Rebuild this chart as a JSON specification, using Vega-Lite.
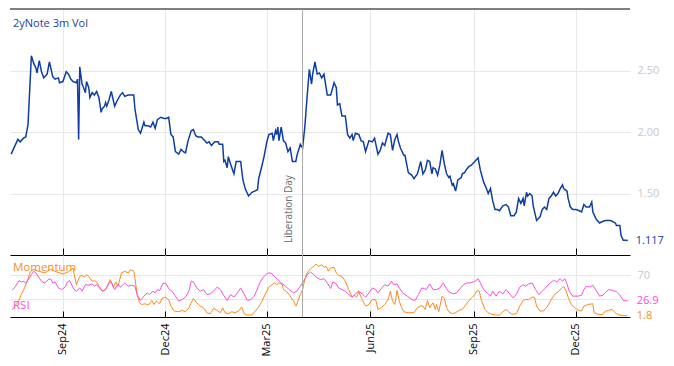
{
  "$schema": "https://vega.github.io/schema/vega-lite/v6.json",
  "padding": {"left": 8, "top": 8, "right": 0, "bottom": 0},
  "bounds": "flush",
  "spacing": 0,
  "config": {
    "view": {"stroke": null},
    "font": "Open Sans",
    "axis": {"gridColor": "#e8e8e8", "domainColor": "black", "tickColor": "black", "title": null}
  },
  "datasets": {
    "vol": [
      {"d":"2024-07-17","v":1.82},{"d":"2024-07-23","v":1.94},{"d":"2024-07-25","v":1.92},{"d":"2024-07-28","v":1.95},{"d":"2024-07-30","v":1.96},{"d":"2024-08-01","v":2.06},{"d":"2024-08-04","v":2.62},{"d":"2024-08-06","v":2.56},{"d":"2024-08-08","v":2.52},{"d":"2024-08-09","v":2.48},{"d":"2024-08-11","v":2.58},{"d":"2024-08-13","v":2.49},{"d":"2024-08-15","v":2.44},{"d":"2024-08-18","v":2.47},{"d":"2024-08-20","v":2.57},{"d":"2024-08-23","v":2.45},{"d":"2024-08-25","v":2.43},{"d":"2024-08-28","v":2.44},{"d":"2024-08-29","v":2.40},{"d":"2024-09-01","v":2.41},{"d":"2024-09-04","v":2.49},{"d":"2024-09-06","v":2.47},{"d":"2024-09-08","v":2.43},{"d":"2024-09-10","v":2.41},{"d":"2024-09-13","v":2.40},{"d":"2024-09-14","v":2.43},{"d":"2024-09-15","v":1.94},{"d":"2024-09-16","v":2.53},{"d":"2024-09-18","v":2.39},{"d":"2024-09-19","v":2.37},{"d":"2024-09-21","v":2.32},{"d":"2024-09-22","v":2.41},{"d":"2024-09-24","v":2.36},{"d":"2024-09-25","v":2.28},{"d":"2024-09-27","v":2.32},{"d":"2024-09-29","v":2.30},{"d":"2024-10-01","v":2.33},{"d":"2024-10-03","v":2.28},{"d":"2024-10-05","v":2.16},{"d":"2024-10-06","v":2.19},{"d":"2024-10-08","v":2.21},{"d":"2024-10-09","v":2.24},{"d":"2024-10-10","v":2.21},{"d":"2024-10-12","v":2.26},{"d":"2024-10-14","v":2.33},{"d":"2024-10-17","v":2.21},{"d":"2024-10-19","v":2.25},{"d":"2024-10-22","v":2.30},{"d":"2024-10-24","v":2.32},{"d":"2024-10-26","v":2.29},{"d":"2024-10-29","v":2.30},{"d":"2024-11-03","v":2.30},{"d":"2024-11-04","v":2.19},{"d":"2024-11-07","v":2.02},{"d":"2024-11-09","v":1.99},{"d":"2024-11-12","v":2.08},{"d":"2024-11-13","v":2.05},{"d":"2024-11-16","v":2.05},{"d":"2024-11-18","v":2.04},{"d":"2024-11-20","v":2.08},{"d":"2024-11-22","v":2.03},{"d":"2024-11-24","v":2.10},{"d":"2024-11-27","v":2.12},{"d":"2024-11-30","v":2.11},{"d":"2024-12-02","v":2.11},{"d":"2024-12-04","v":2.12},{"d":"2024-12-06","v":1.98},{"d":"2024-12-08","v":1.96},{"d":"2024-12-10","v":1.84},{"d":"2024-12-13","v":1.82},{"d":"2024-12-15","v":1.86},{"d":"2024-12-17","v":1.84},{"d":"2024-12-19","v":1.83},{"d":"2024-12-21","v":1.92},{"d":"2024-12-24","v":2.01},{"d":"2024-12-26","v":2.02},{"d":"2024-12-28","v":1.97},{"d":"2024-12-30","v":1.96},{"d":"2025-01-02","v":1.96},{"d":"2025-01-05","v":1.93},{"d":"2025-01-07","v":1.91},{"d":"2025-01-09","v":1.92},{"d":"2025-01-11","v":1.89},{"d":"2025-01-14","v":1.92},{"d":"2025-01-17","v":1.92},{"d":"2025-01-18","v":1.90},{"d":"2025-01-21","v":1.90},{"d":"2025-01-22","v":1.76},{"d":"2025-01-23","v":1.77},{"d":"2025-01-25","v":1.71},{"d":"2025-01-26","v":1.80},{"d":"2025-01-28","v":1.74},{"d":"2025-01-31","v":1.66},{"d":"2025-02-02","v":1.76},{"d":"2025-02-06","v":1.76},{"d":"2025-02-08","v":1.61},{"d":"2025-02-10","v":1.54},{"d":"2025-02-13","v":1.48},{"d":"2025-02-16","v":1.51},{"d":"2025-02-21","v":1.53},{"d":"2025-02-22","v":1.62},{"d":"2025-02-25","v":1.73},{"d":"2025-02-27","v":1.81},{"d":"2025-03-01","v":1.91},{"d":"2025-03-03","v":1.98},{"d":"2025-03-06","v":1.99},{"d":"2025-03-07","v":1.93},{"d":"2025-03-09","v":2.01},{"d":"2025-03-10","v":1.98},{"d":"2025-03-11","v":2.04},{"d":"2025-03-12","v":1.93},{"d":"2025-03-14","v":2.04},{"d":"2025-03-16","v":1.93},{"d":"2025-03-18","v":1.91},{"d":"2025-03-20","v":1.84},{"d":"2025-03-22","v":1.87},{"d":"2025-03-24","v":1.76},{"d":"2025-03-27","v":1.76},{"d":"2025-03-28","v":1.81},{"d":"2025-03-31","v":1.90},{"d":"2025-04-02","v":1.87},{"d":"2025-04-04","v":2.04},{"d":"2025-04-06","v":2.28},{"d":"2025-04-08","v":2.51},{"d":"2025-04-10","v":2.39},{"d":"2025-04-11","v":2.47},{"d":"2025-04-13","v":2.57},{"d":"2025-04-15","v":2.47},{"d":"2025-04-17","v":2.48},{"d":"2025-04-19","v":2.44},{"d":"2025-04-21","v":2.47},{"d":"2025-04-24","v":2.30},{"d":"2025-04-27","v":2.30},{"d":"2025-04-30","v":2.40},{"d":"2025-05-02","v":2.36},{"d":"2025-05-03","v":2.22},{"d":"2025-05-05","v":2.23},{"d":"2025-05-07","v":2.13},{"d":"2025-05-10","v":2.13},{"d":"2025-05-12","v":1.98},{"d":"2025-05-14","v":1.95},{"d":"2025-05-16","v":1.98},{"d":"2025-05-17","v":1.93},{"d":"2025-05-19","v":1.99},{"d":"2025-05-22","v":1.98},{"d":"2025-05-24","v":1.93},{"d":"2025-05-26","v":1.92},{"d":"2025-05-28","v":1.84},{"d":"2025-05-31","v":1.93},{"d":"2025-06-03","v":1.92},{"d":"2025-06-05","v":1.95},{"d":"2025-06-08","v":1.82},{"d":"2025-06-10","v":1.85},{"d":"2025-06-12","v":1.91},{"d":"2025-06-14","v":1.89},{"d":"2025-06-17","v":1.99},{"d":"2025-06-19","v":1.98},{"d":"2025-06-21","v":1.85},{"d":"2025-06-23","v":1.94},{"d":"2025-06-25","v":1.98},{"d":"2025-06-26","v":1.93},{"d":"2025-06-28","v":1.87},{"d":"2025-07-01","v":1.81},{"d":"2025-07-02","v":1.81},{"d":"2025-07-05","v":1.67},{"d":"2025-07-08","v":1.65},{"d":"2025-07-10","v":1.62},{"d":"2025-07-13","v":1.66},{"d":"2025-07-14","v":1.69},{"d":"2025-07-16","v":1.76},{"d":"2025-07-18","v":1.66},{"d":"2025-07-20","v":1.69},{"d":"2025-07-22","v":1.77},{"d":"2025-07-24","v":1.76},{"d":"2025-07-26","v":1.66},{"d":"2025-07-27","v":1.71},{"d":"2025-07-29","v":1.70},{"d":"2025-07-31","v":1.65},{"d":"2025-08-02","v":1.73},{"d":"2025-08-04","v":1.85},{"d":"2025-08-06","v":1.74},{"d":"2025-08-08","v":1.66},{"d":"2025-08-10","v":1.63},{"d":"2025-08-11","v":1.64},{"d":"2025-08-13","v":1.57},{"d":"2025-08-14","v":1.58},{"d":"2025-08-16","v":1.52},{"d":"2025-08-18","v":1.61},{"d":"2025-08-21","v":1.63},{"d":"2025-08-22","v":1.66},{"d":"2025-08-24","v":1.67},{"d":"2025-08-26","v":1.70},{"d":"2025-08-28","v":1.72},{"d":"2025-08-30","v":1.73},{"d":"2025-09-02","v":1.76},{"d":"2025-09-05","v":1.79},{"d":"2025-09-07","v":1.69},{"d":"2025-09-10","v":1.59},{"d":"2025-09-12","v":1.55},{"d":"2025-09-14","v":1.50},{"d":"2025-09-16","v":1.54},{"d":"2025-09-18","v":1.44},{"d":"2025-09-20","v":1.37},{"d":"2025-09-22","v":1.37},{"d":"2025-09-24","v":1.36},{"d":"2025-09-27","v":1.40},{"d":"2025-09-30","v":1.41},{"d":"2025-10-02","v":1.39},{"d":"2025-10-04","v":1.32},{"d":"2025-10-07","v":1.32},{"d":"2025-10-09","v":1.35},{"d":"2025-10-11","v":1.46},{"d":"2025-10-13","v":1.42},{"d":"2025-10-15","v":1.46},{"d":"2025-10-16","v":1.40},{"d":"2025-10-18","v":1.51},{"d":"2025-10-19","v":1.48},{"d":"2025-10-21","v":1.50},{"d":"2025-10-23","v":1.48},{"d":"2025-10-24","v":1.40},{"d":"2025-10-27","v":1.28},{"d":"2025-10-30","v":1.31},{"d":"2025-11-01","v":1.37},{"d":"2025-11-03","v":1.39},{"d":"2025-11-05","v":1.37},{"d":"2025-11-07","v":1.46},{"d":"2025-11-09","v":1.48},{"d":"2025-11-11","v":1.51},{"d":"2025-11-13","v":1.48},{"d":"2025-11-15","v":1.50},{"d":"2025-11-17","v":1.54},{"d":"2025-11-19","v":1.57},{"d":"2025-11-20","v":1.54},{"d":"2025-11-23","v":1.52},{"d":"2025-11-24","v":1.46},{"d":"2025-11-26","v":1.39},{"d":"2025-11-28","v":1.37},{"d":"2025-12-01","v":1.37},{"d":"2025-12-04","v":1.36},{"d":"2025-12-06","v":1.35},{"d":"2025-12-08","v":1.41},{"d":"2025-12-10","v":1.39},{"d":"2025-12-13","v":1.39},{"d":"2025-12-15","v":1.43},{"d":"2025-12-16","v":1.35},{"d":"2025-12-19","v":1.29},{"d":"2025-12-22","v":1.26},{"d":"2025-12-24","v":1.27},{"d":"2025-12-27","v":1.28},{"d":"2025-12-30","v":1.28},{"d":"2026-01-01","v":1.28},{"d":"2026-01-03","v":1.27},{"d":"2026-01-05","v":1.26},{"d":"2026-01-06","v":1.24},{"d":"2026-01-09","v":1.24},{"d":"2026-01-10","v":1.16},{"d":"2026-01-12","v":1.12},{"d":"2026-01-14","v":1.12},{"d":"2026-01-16","v":1.117}
    ],
    "osc": [
      {"d":"2024-07-18","s":"Momentum","v":12},{"d":"2024-07-21","s":"Momentum","v":20},{"d":"2024-07-24","s":"Momentum","v":28},{"d":"2024-07-26","s":"Momentum","v":38},{"d":"2024-07-28","s":"Momentum","v":45},{"d":"2024-07-31","s":"Momentum","v":58},{"d":"2024-08-03","s":"Momentum","v":76},{"d":"2024-08-06","s":"Momentum","v":80},{"d":"2024-08-10","s":"Momentum","v":77},{"d":"2024-08-16","s":"Momentum","v":74},{"d":"2024-08-21","s":"Momentum","v":80},{"d":"2024-08-26","s":"Momentum","v":76},{"d":"2024-09-01","s":"Momentum","v":72},{"d":"2024-09-06","s":"Momentum","v":76},{"d":"2024-09-10","s":"Momentum","v":82},{"d":"2024-09-13","s":"Momentum","v":54},{"d":"2024-09-16","s":"Momentum","v":68},{"d":"2024-09-18","s":"Momentum","v":70},{"d":"2024-09-20","s":"Momentum","v":66.7},{"d":"2024-09-22","s":"Momentum","v":71},{"d":"2024-09-24","s":"Momentum","v":68},{"d":"2024-09-27","s":"Momentum","v":60},{"d":"2024-09-29","s":"Momentum","v":61},{"d":"2024-10-01","s":"Momentum","v":58.8},{"d":"2024-10-03","s":"Momentum","v":51.7},{"d":"2024-10-06","s":"Momentum","v":43.3},{"d":"2024-10-09","s":"Momentum","v":46},{"d":"2024-10-11","s":"Momentum","v":54},{"d":"2024-10-13","s":"Momentum","v":62.7},{"d":"2024-10-16","s":"Momentum","v":50},{"d":"2024-10-18","s":"Momentum","v":58.8},{"d":"2024-10-20","s":"Momentum","v":51.7},{"d":"2024-10-23","s":"Momentum","v":73.8},{"d":"2024-10-26","s":"Momentum","v":76.7},{"d":"2024-10-29","s":"Momentum","v":73.8},{"d":"2024-10-31","s":"Momentum","v":79.3},{"d":"2024-11-03","s":"Momentum","v":76.7},{"d":"2024-11-04","s":"Momentum","v":65.5},{"d":"2024-11-06","s":"Momentum","v":37.7},{"d":"2024-11-08","s":"Momentum","v":23.8},{"d":"2024-11-10","s":"Momentum","v":21},{"d":"2024-11-13","s":"Momentum","v":22.2},{"d":"2024-11-16","s":"Momentum","v":20},{"d":"2024-11-19","s":"Momentum","v":27.7},{"d":"2024-11-21","s":"Momentum","v":21},{"d":"2024-11-23","s":"Momentum","v":26.7},{"d":"2024-11-26","s":"Momentum","v":22.2},{"d":"2024-11-28","s":"Momentum","v":31},{"d":"2024-12-01","s":"Momentum","v":33.3},{"d":"2024-12-04","s":"Momentum","v":29.3},{"d":"2024-12-06","s":"Momentum","v":18.3},{"d":"2024-12-09","s":"Momentum","v":10},{"d":"2024-12-13","s":"Momentum","v":8.8},{"d":"2024-12-16","s":"Momentum","v":11},{"d":"2024-12-19","s":"Momentum","v":8.8},{"d":"2024-12-22","s":"Momentum","v":15.5},{"d":"2024-12-24","s":"Momentum","v":23.8},{"d":"2024-12-26","s":"Momentum","v":31},{"d":"2024-12-29","s":"Momentum","v":23.8},{"d":"2025-01-01","s":"Momentum","v":18.3},{"d":"2025-01-04","s":"Momentum","v":15.5},{"d":"2025-01-07","s":"Momentum","v":7.2},{"d":"2025-01-10","s":"Momentum","v":5.5},{"d":"2025-01-13","s":"Momentum","v":14.3},{"d":"2025-01-16","s":"Momentum","v":11},{"d":"2025-01-19","s":"Momentum","v":7.2},{"d":"2025-01-21","s":"Momentum","v":15.5},{"d":"2025-01-23","s":"Momentum","v":7.2},{"d":"2025-01-26","s":"Momentum","v":5.5},{"d":"2025-01-29","s":"Momentum","v":8.8},{"d":"2025-02-01","s":"Momentum","v":7.2},{"d":"2025-02-04","s":"Momentum","v":10},{"d":"2025-02-07","s":"Momentum","v":16.7},{"d":"2025-02-09","s":"Momentum","v":5.5},{"d":"2025-02-12","s":"Momentum","v":3.3},{"d":"2025-02-16","s":"Momentum","v":3.3},{"d":"2025-02-19","s":"Momentum","v":10},{"d":"2025-02-22","s":"Momentum","v":16.7},{"d":"2025-02-25","s":"Momentum","v":26.7},{"d":"2025-02-28","s":"Momentum","v":38.8},{"d":"2025-03-03","s":"Momentum","v":50},{"d":"2025-03-06","s":"Momentum","v":54.3},{"d":"2025-03-08","s":"Momentum","v":57.2},{"d":"2025-03-10","s":"Momentum","v":54.3},{"d":"2025-03-12","s":"Momentum","v":57.2},{"d":"2025-03-15","s":"Momentum","v":54.3},{"d":"2025-03-16","s":"Momentum","v":46},{"d":"2025-03-19","s":"Momentum","v":42.2},{"d":"2025-03-22","s":"Momentum","v":35},{"d":"2025-03-25","s":"Momentum","v":26.7},{"d":"2025-03-27","s":"Momentum","v":18.3},{"d":"2025-03-29","s":"Momentum","v":26.7},{"d":"2025-03-31","s":"Momentum","v":37.7},{"d":"2025-04-02","s":"Momentum","v":46},{"d":"2025-04-04","s":"Momentum","v":62.7},{"d":"2025-04-06","s":"Momentum","v":73.8},{"d":"2025-04-09","s":"Momentum","v":81},{"d":"2025-04-12","s":"Momentum","v":85},{"d":"2025-04-14","s":"Momentum","v":88.8},{"d":"2025-04-16","s":"Momentum","v":85},{"d":"2025-04-19","s":"Momentum","v":87.7},{"d":"2025-04-21","s":"Momentum","v":83.3},{"d":"2025-04-23","s":"Momentum","v":85},{"d":"2025-04-25","s":"Momentum","v":76.7},{"d":"2025-04-27","s":"Momentum","v":82.2},{"d":"2025-04-30","s":"Momentum","v":83.3},{"d":"2025-05-02","s":"Momentum","v":73.8},{"d":"2025-05-04","s":"Momentum","v":70},{"d":"2025-05-07","s":"Momentum","v":68.3},{"d":"2025-05-10","s":"Momentum","v":60},{"d":"2025-05-13","s":"Momentum","v":46},{"d":"2025-05-16","s":"Momentum","v":33.3},{"d":"2025-05-18","s":"Momentum","v":36.7},{"d":"2025-05-20","s":"Momentum","v":33.3},{"d":"2025-05-22","s":"Momentum","v":42.2},{"d":"2025-05-25","s":"Momentum","v":29.3},{"d":"2025-05-28","s":"Momentum","v":18.3},{"d":"2025-05-31","s":"Momentum","v":21},{"d":"2025-06-03","s":"Momentum","v":29.3},{"d":"2025-06-06","s":"Momentum","v":29.3},{"d":"2025-06-08","s":"Momentum","v":12.7},{"d":"2025-06-11","s":"Momentum","v":15.5},{"d":"2025-06-14","s":"Momentum","v":21},{"d":"2025-06-17","s":"Momentum","v":29.3},{"d":"2025-06-19","s":"Momentum","v":43.3},{"d":"2025-06-21","s":"Momentum","v":26.7},{"d":"2025-06-23","s":"Momentum","v":21},{"d":"2025-06-25","s":"Momentum","v":44.3},{"d":"2025-06-27","s":"Momentum","v":26.7},{"d":"2025-06-29","s":"Momentum","v":15.5},{"d":"2025-07-01","s":"Momentum","v":8.8},{"d":"2025-07-05","s":"Momentum","v":7.2},{"d":"2025-07-10","s":"Momentum","v":7.2},{"d":"2025-07-13","s":"Momentum","v":15.5},{"d":"2025-07-16","s":"Momentum","v":18.3},{"d":"2025-07-18","s":"Momentum","v":18.3},{"d":"2025-07-20","s":"Momentum","v":12.7},{"d":"2025-07-22","s":"Momentum","v":27.7},{"d":"2025-07-24","s":"Momentum","v":15.5},{"d":"2025-07-27","s":"Momentum","v":23.8},{"d":"2025-07-29","s":"Momentum","v":12.7},{"d":"2025-07-30","s":"Momentum","v":21},{"d":"2025-08-01","s":"Momentum","v":8.8},{"d":"2025-08-04","s":"Momentum","v":35},{"d":"2025-08-06","s":"Momentum","v":31},{"d":"2025-08-08","s":"Momentum","v":15.5},{"d":"2025-08-10","s":"Momentum","v":8.8},{"d":"2025-08-13","s":"Momentum","v":5.5},{"d":"2025-08-16","s":"Momentum","v":7.2},{"d":"2025-08-19","s":"Momentum","v":11},{"d":"2025-08-22","s":"Momentum","v":12.7},{"d":"2025-08-25","s":"Momentum","v":20},{"d":"2025-08-28","s":"Momentum","v":27.7},{"d":"2025-08-31","s":"Momentum","v":33.3},{"d":"2025-09-02","s":"Momentum","v":37.7},{"d":"2025-09-04","s":"Momentum","v":44.3},{"d":"2025-09-06","s":"Momentum","v":43.3},{"d":"2025-09-08","s":"Momentum","v":27.7},{"d":"2025-09-11","s":"Momentum","v":12.7},{"d":"2025-09-14","s":"Momentum","v":7.2},{"d":"2025-09-17","s":"Momentum","v":4.4},{"d":"2025-09-21","s":"Momentum","v":3.3},{"d":"2025-09-24","s":"Momentum","v":3.3},{"d":"2025-09-27","s":"Momentum","v":8.8},{"d":"2025-09-30","s":"Momentum","v":12.7},{"d":"2025-10-02","s":"Momentum","v":8.8},{"d":"2025-10-05","s":"Momentum","v":4.4},{"d":"2025-10-09","s":"Momentum","v":5.5},{"d":"2025-10-12","s":"Momentum","v":18.3},{"d":"2025-10-15","s":"Momentum","v":27.7},{"d":"2025-10-17","s":"Momentum","v":29.3},{"d":"2025-10-20","s":"Momentum","v":29.3},{"d":"2025-10-23","s":"Momentum","v":33.3},{"d":"2025-10-25","s":"Momentum","v":33.3},{"d":"2025-10-27","s":"Momentum","v":18.3},{"d":"2025-10-30","s":"Momentum","v":10},{"d":"2025-11-02","s":"Momentum","v":10},{"d":"2025-11-04","s":"Momentum","v":14.3},{"d":"2025-11-06","s":"Momentum","v":18.3},{"d":"2025-11-09","s":"Momentum","v":29.3},{"d":"2025-11-12","s":"Momentum","v":37.7},{"d":"2025-11-15","s":"Momentum","v":42.2},{"d":"2025-11-18","s":"Momentum","v":47.7},{"d":"2025-11-20","s":"Momentum","v":51.7},{"d":"2025-11-22","s":"Momentum","v":44.3},{"d":"2025-11-24","s":"Momentum","v":33.3},{"d":"2025-11-27","s":"Momentum","v":20},{"d":"2025-11-30","s":"Momentum","v":15.5},{"d":"2025-12-03","s":"Momentum","v":11},{"d":"2025-12-06","s":"Momentum","v":10},{"d":"2025-12-08","s":"Momentum","v":18.3},{"d":"2025-12-12","s":"Momentum","v":21},{"d":"2025-12-16","s":"Momentum","v":22.2},{"d":"2025-12-17","s":"Momentum","v":7.2},{"d":"2025-12-21","s":"Momentum","v":4.4},{"d":"2025-12-25","s":"Momentum","v":4.4},{"d":"2025-12-27","s":"Momentum","v":10},{"d":"2025-12-30","s":"Momentum","v":11},{"d":"2026-01-02","s":"Momentum","v":12.7},{"d":"2026-01-04","s":"Momentum","v":8.8},{"d":"2026-01-06","s":"Momentum","v":5.5},{"d":"2026-01-09","s":"Momentum","v":3.3},{"d":"2026-01-12","s":"Momentum","v":2.7},{"d":"2026-01-16","s":"Momentum","v":1.8},
      {"d":"2024-07-18","s":"RSI","v":45},{"d":"2024-07-21","s":"RSI","v":51.7},{"d":"2024-07-24","s":"RSI","v":61},{"d":"2024-07-26","s":"RSI","v":58.8},{"d":"2024-07-28","s":"RSI","v":60},{"d":"2024-07-30","s":"RSI","v":57},{"d":"2024-08-02","s":"RSI","v":64.3},{"d":"2024-08-04","s":"RSI","v":71},{"d":"2024-08-06","s":"RSI","v":76.7},{"d":"2024-08-08","s":"RSI","v":73.8},{"d":"2024-08-10","s":"RSI","v":68.3},{"d":"2024-08-13","s":"RSI","v":60},{"d":"2024-08-16","s":"RSI","v":57},{"d":"2024-08-19","s":"RSI","v":62.7},{"d":"2024-08-21","s":"RSI","v":64.3},{"d":"2024-08-23","s":"RSI","v":57},{"d":"2024-08-25","s":"RSI","v":58.8},{"d":"2024-08-28","s":"RSI","v":48.8},{"d":"2024-08-31","s":"RSI","v":46},{"d":"2024-09-03","s":"RSI","v":50},{"d":"2024-09-05","s":"RSI","v":58.8},{"d":"2024-09-07","s":"RSI","v":61},{"d":"2024-09-09","s":"RSI","v":53.3},{"d":"2024-09-11","s":"RSI","v":46},{"d":"2024-09-13","s":"RSI","v":43.3},{"d":"2024-09-16","s":"RSI","v":48.8},{"d":"2024-09-18","s":"RSI","v":43.3},{"d":"2024-09-21","s":"RSI","v":54.3},{"d":"2024-09-24","s":"RSI","v":53.3},{"d":"2024-09-27","s":"RSI","v":55.5},{"d":"2024-09-29","s":"RSI","v":51.7},{"d":"2024-10-01","s":"RSI","v":54.3},{"d":"2024-10-03","s":"RSI","v":50},{"d":"2024-10-06","s":"RSI","v":43.3},{"d":"2024-10-09","s":"RSI","v":46},{"d":"2024-10-12","s":"RSI","v":57},{"d":"2024-10-14","s":"RSI","v":58.8},{"d":"2024-10-17","s":"RSI","v":46},{"d":"2024-10-20","s":"RSI","v":55.5},{"d":"2024-10-22","s":"RSI","v":50},{"d":"2024-10-24","s":"RSI","v":53.3},{"d":"2024-10-26","s":"RSI","v":57},{"d":"2024-10-29","s":"RSI","v":51.7},{"d":"2024-11-01","s":"RSI","v":53.3},{"d":"2024-11-04","s":"RSI","v":51.7},{"d":"2024-11-06","s":"RSI","v":37.7},{"d":"2024-11-09","s":"RSI","v":27.7},{"d":"2024-11-12","s":"RSI","v":35},{"d":"2024-11-15","s":"RSI","v":40.5},{"d":"2024-11-17","s":"RSI","v":37.7},{"d":"2024-11-20","s":"RSI","v":43.3},{"d":"2024-11-22","s":"RSI","v":40.5},{"d":"2024-11-24","s":"RSI","v":46},{"d":"2024-11-26","s":"RSI","v":44.3},{"d":"2024-11-29","s":"RSI","v":57},{"d":"2024-12-02","s":"RSI","v":55.5},{"d":"2024-12-04","s":"RSI","v":47.7},{"d":"2024-12-07","s":"RSI","v":43.3},{"d":"2024-12-10","s":"RSI","v":35},{"d":"2024-12-13","s":"RSI","v":26.7},{"d":"2024-12-16","s":"RSI","v":29.3},{"d":"2024-12-19","s":"RSI","v":33.3},{"d":"2024-12-22","s":"RSI","v":43.3},{"d":"2024-12-24","s":"RSI","v":60},{"d":"2024-12-26","s":"RSI","v":58.8},{"d":"2024-12-29","s":"RSI","v":48.8},{"d":"2025-01-01","s":"RSI","v":43.3},{"d":"2025-01-04","s":"RSI","v":46},{"d":"2025-01-07","s":"RSI","v":37.7},{"d":"2025-01-10","s":"RSI","v":38.8},{"d":"2025-01-13","s":"RSI","v":43.3},{"d":"2025-01-16","s":"RSI","v":50},{"d":"2025-01-19","s":"RSI","v":46},{"d":"2025-01-21","s":"RSI","v":38.8},{"d":"2025-01-25","s":"RSI","v":27.7},{"d":"2025-01-28","s":"RSI","v":37.7},{"d":"2025-01-31","s":"RSI","v":33.3},{"d":"2025-02-03","s":"RSI","v":40.5},{"d":"2025-02-06","s":"RSI","v":48.8},{"d":"2025-02-09","s":"RSI","v":38.8},{"d":"2025-02-12","s":"RSI","v":27.7},{"d":"2025-02-15","s":"RSI","v":29.3},{"d":"2025-02-18","s":"RSI","v":35},{"d":"2025-02-20","s":"RSI","v":43.3},{"d":"2025-02-23","s":"RSI","v":57.2},{"d":"2025-02-26","s":"RSI","v":66.7},{"d":"2025-03-02","s":"RSI","v":73.8},{"d":"2025-03-05","s":"RSI","v":73.8},{"d":"2025-03-08","s":"RSI","v":68.3},{"d":"2025-03-11","s":"RSI","v":62.7},{"d":"2025-03-14","s":"RSI","v":57.2},{"d":"2025-03-18","s":"RSI","v":51.7},{"d":"2025-03-21","s":"RSI","v":46},{"d":"2025-03-25","s":"RSI","v":40.5},{"d":"2025-03-28","s":"RSI","v":43.3},{"d":"2025-03-31","s":"RSI","v":51.7},{"d":"2025-04-03","s":"RSI","v":60},{"d":"2025-04-06","s":"RSI","v":71},{"d":"2025-04-09","s":"RSI","v":75.5},{"d":"2025-04-12","s":"RSI","v":71},{"d":"2025-04-15","s":"RSI","v":65.5},{"d":"2025-04-18","s":"RSI","v":62.7},{"d":"2025-04-21","s":"RSI","v":64.3},{"d":"2025-04-24","s":"RSI","v":57.2},{"d":"2025-04-27","s":"RSI","v":47.7},{"d":"2025-04-29","s":"RSI","v":58.8},{"d":"2025-05-02","s":"RSI","v":55.5},{"d":"2025-05-04","s":"RSI","v":48.8},{"d":"2025-05-07","s":"RSI","v":46},{"d":"2025-05-10","s":"RSI","v":43.3},{"d":"2025-05-13","s":"RSI","v":37.7},{"d":"2025-05-16","s":"RSI","v":33.3},{"d":"2025-05-19","s":"RSI","v":38.8},{"d":"2025-05-22","s":"RSI","v":43.3},{"d":"2025-05-25","s":"RSI","v":38.8},{"d":"2025-05-28","s":"RSI","v":33.3},{"d":"2025-05-31","s":"RSI","v":40.5},{"d":"2025-06-03","s":"RSI","v":48.8},{"d":"2025-06-06","s":"RSI","v":46},{"d":"2025-06-08","s":"RSI","v":40.5},{"d":"2025-06-11","s":"RSI","v":47.7},{"d":"2025-06-14","s":"RSI","v":54.3},{"d":"2025-06-17","s":"RSI","v":51.7},{"d":"2025-06-20","s":"RSI","v":60},{"d":"2025-06-22","s":"RSI","v":54.3},{"d":"2025-06-25","s":"RSI","v":55.5},{"d":"2025-06-27","s":"RSI","v":48.8},{"d":"2025-06-30","s":"RSI","v":40.5},{"d":"2025-07-04","s":"RSI","v":35},{"d":"2025-07-08","s":"RSI","v":29.3},{"d":"2025-07-11","s":"RSI","v":27.7},{"d":"2025-07-14","s":"RSI","v":37.7},{"d":"2025-07-17","s":"RSI","v":48.8},{"d":"2025-07-19","s":"RSI","v":47.7},{"d":"2025-07-21","s":"RSI","v":46},{"d":"2025-07-24","s":"RSI","v":55.5},{"d":"2025-07-27","s":"RSI","v":46},{"d":"2025-07-30","s":"RSI","v":46},{"d":"2025-08-02","s":"RSI","v":48.8},{"d":"2025-08-05","s":"RSI","v":57.2},{"d":"2025-08-08","s":"RSI","v":47.7},{"d":"2025-08-10","s":"RSI","v":42.2},{"d":"2025-08-14","s":"RSI","v":38.8},{"d":"2025-08-17","s":"RSI","v":40.5},{"d":"2025-08-20","s":"RSI","v":47.7},{"d":"2025-08-23","s":"RSI","v":54.3},{"d":"2025-08-26","s":"RSI","v":57.2},{"d":"2025-08-29","s":"RSI","v":57.2},{"d":"2025-09-01","s":"RSI","v":58.8},{"d":"2025-09-03","s":"RSI","v":61},{"d":"2025-09-05","s":"RSI","v":64.3},{"d":"2025-09-07","s":"RSI","v":57.2},{"d":"2025-09-10","s":"RSI","v":46},{"d":"2025-09-13","s":"RSI","v":40.5},{"d":"2025-09-16","s":"RSI","v":35},{"d":"2025-09-18","s":"RSI","v":43.3},{"d":"2025-09-21","s":"RSI","v":35},{"d":"2025-09-24","s":"RSI","v":43.3},{"d":"2025-09-27","s":"RSI","v":38.8},{"d":"2025-09-30","s":"RSI","v":46},{"d":"2025-10-03","s":"RSI","v":38.8},{"d":"2025-10-06","s":"RSI","v":32.2},{"d":"2025-10-09","s":"RSI","v":37.7},{"d":"2025-10-12","s":"RSI","v":50},{"d":"2025-10-15","s":"RSI","v":54.3},{"d":"2025-10-17","s":"RSI","v":51.7},{"d":"2025-10-20","s":"RSI","v":55.5},{"d":"2025-10-23","s":"RSI","v":57.2},{"d":"2025-10-26","s":"RSI","v":46},{"d":"2025-10-29","s":"RSI","v":37.7},{"d":"2025-11-01","s":"RSI","v":43.3},{"d":"2025-11-04","s":"RSI","v":48.8},{"d":"2025-11-07","s":"RSI","v":55.5},{"d":"2025-11-10","s":"RSI","v":60},{"d":"2025-11-12","s":"RSI","v":61},{"d":"2025-11-14","s":"RSI","v":58.8},{"d":"2025-11-17","s":"RSI","v":64.3},{"d":"2025-11-19","s":"RSI","v":60},{"d":"2025-11-21","s":"RSI","v":64.3},{"d":"2025-11-23","s":"RSI","v":55.5},{"d":"2025-11-25","s":"RSI","v":43.3},{"d":"2025-11-28","s":"RSI","v":35},{"d":"2025-12-03","s":"RSI","v":35},{"d":"2025-12-06","s":"RSI","v":36.7},{"d":"2025-12-08","s":"RSI","v":46},{"d":"2025-12-10","s":"RSI","v":51.7},{"d":"2025-12-13","s":"RSI","v":50},{"d":"2025-12-16","s":"RSI","v":53.3},{"d":"2025-12-19","s":"RSI","v":44.3},{"d":"2025-12-22","s":"RSI","v":35},{"d":"2025-12-25","s":"RSI","v":36.7},{"d":"2025-12-27","s":"RSI","v":40.5},{"d":"2025-12-30","s":"RSI","v":46},{"d":"2026-01-03","s":"RSI","v":44.3},{"d":"2026-01-06","s":"RSI","v":42.2},{"d":"2026-01-09","s":"RSI","v":36.7},{"d":"2026-01-12","s":"RSI","v":27.7},{"d":"2026-01-16","s":"RSI","v":26.9}
    ]
  },
  "vconcat": [
    {
      "width": 620,
      "height": 246,
      "layer": [
        {
          "data": {"name": "vol"},
          "mark": {"type": "line", "color": "#0f3ea3", "strokeWidth": 1.5},
          "encoding": {
            "x": {"field": "d", "type": "temporal",
              "scale": {"type": "utc", "domain": [{"year": 2024, "month": 7, "date": 16, "utc": true}, {"year": 2026, "month": 1, "date": 18, "utc": true}]},
              "axis": {"orient": "bottom", "labels": false, "tickSize": -7, "grid": true,
                "values": [{"year": 2024, "month": 9, "date": 1, "utc": true}, {"year": 2024, "month": 12, "date": 1, "utc": true}, {"year": 2025, "month": 3, "date": 1, "utc": true}, {"year": 2025, "month": 6, "date": 1, "utc": true}, {"year": 2025, "month": 9, "date": 1, "utc": true}, {"year": 2025, "month": 12, "date": 1, "utc": true}]}},
            "y": {"field": "v", "type": "quantitative",
              "scale": {"domain": [1, 3], "nice": false, "zero": false},
              "axis": {"orient": "right", "values": [1.5, 2, 2.5], "format": ".2f", "ticks": false, "domain": false, "grid": true, "labelColor": "#c8c8c8", "labelFontSize": 11, "labelPadding": 7}}
          }
        },
        {
          "data": {"values": [{}]},
          "mark": {"type": "rule", "color": "black", "strokeWidth": 1},
          "encoding": {"y": {"datum": 3, "type": "quantitative"}}
        },
        {
          "data": {"values": [{}]},
          "mark": {"type": "rule", "color": "#a8a8a8", "strokeWidth": 1},
          "encoding": {"x": {"datum": {"year": 2025, "month": 4, "date": 2, "utc": true}, "type": "temporal"}}
        },
        {
          "data": {"values": [{}]},
          "mark": {"type": "text", "angle": 270, "align": "left", "baseline": "middle", "dx": 12, "dy": -14, "fontSize": 10, "color": "#6b6b6b"},
          "encoding": {
            "x": {"datum": {"year": 2025, "month": 4, "date": 2, "utc": true}, "type": "temporal"},
            "y": {"datum": 1, "type": "quantitative"},
            "text": {"value": "Liberation Day"}
          }
        },
        {
          "data": {"values": [{}]},
          "mark": {"type": "text", "align": "left", "baseline": "middle", "dx": 3, "fontSize": 11, "color": "#1f3f9f"},
          "encoding": {
            "x": {"datum": {"year": 2024, "month": 7, "date": 16, "utc": true}, "type": "temporal"},
            "y": {"datum": 2.875, "type": "quantitative"},
            "text": {"value": "2yNote 3m Vol"}
          }
        },
        {
          "data": {"name": "vol"},
          "transform": [
            {"window": [{"op": "rank", "as": "r"}], "sort": [{"field": "d", "order": "descending"}]},
            {"filter": "datum.r == 1"}
          ],
          "mark": {"type": "text", "align": "left", "baseline": "middle", "dx": 8, "fontSize": 11, "color": "#0f3ea3"},
          "encoding": {
            "x": {"field": "d", "type": "temporal"},
            "y": {"field": "v", "type": "quantitative"},
            "text": {"field": "v", "type": "quantitative", "format": ".3f"}
          }
        }
      ]
    },
    {
      "width": 620,
      "height": 62,
      "layer": [
        {
          "data": {"name": "osc"},
          "mark": {"type": "line", "strokeWidth": 1},
          "encoding": {
            "x": {"field": "d", "type": "temporal",
              "scale": {"type": "utc", "domain": [{"year": 2024, "month": 7, "date": 16, "utc": true}, {"year": 2026, "month": 1, "date": 18, "utc": true}]},
              "axis": {"orient": "bottom", "format": "%b%y", "labelAngle": 270, "labelFontSize": 11, "labelColor": "black", "tickSize": -6, "labelPadding": 12, "grid": true,
                "values": [{"year": 2024, "month": 9, "date": 1, "utc": true}, {"year": 2024, "month": 12, "date": 1, "utc": true}, {"year": 2025, "month": 3, "date": 1, "utc": true}, {"year": 2025, "month": 6, "date": 1, "utc": true}, {"year": 2025, "month": 9, "date": 1, "utc": true}, {"year": 2025, "month": 12, "date": 1, "utc": true}]}},
            "y": {"field": "v", "type": "quantitative",
              "scale": {"domain": [0, 104], "nice": false},
              "axis": {"orient": "right", "values": [30, 70], "labelExpr": "datum.value == 70 ? '70' : ''", "ticks": false, "domain": false, "grid": true, "labelColor": "#c8c8c8", "labelFontSize": 11, "labelPadding": 7}},
            "color": {"field": "s", "type": "nominal", "scale": {"domain": ["Momentum", "RSI"], "range": ["#fb8c1c", "#f750da"]}, "legend": null}
          }
        },
        {
          "data": {"values": [{}]},
          "mark": {"type": "rule", "color": "#a8a8a8", "strokeWidth": 1},
          "encoding": {"x": {"datum": {"year": 2025, "month": 4, "date": 2, "utc": true}, "type": "temporal"}}
        },
        {
          "data": {"values": [{}]},
          "mark": {"type": "text", "align": "left", "baseline": "middle", "dx": 3, "fontSize": 11.5, "color": "#fb8c1c"},
          "encoding": {
            "x": {"datum": {"year": 2024, "month": 7, "date": 16, "utc": true}, "type": "temporal"},
            "y": {"datum": 82, "type": "quantitative"},
            "text": {"value": "Momentum"}
          }
        },
        {
          "data": {"values": [{}]},
          "mark": {"type": "text", "align": "left", "baseline": "middle", "dx": 3, "fontSize": 11.5, "color": "#f750da"},
          "encoding": {
            "x": {"datum": {"year": 2024, "month": 7, "date": 16, "utc": true}, "type": "temporal"},
            "y": {"datum": 18.5, "type": "quantitative"},
            "text": {"value": "RSI"}
          }
        },
        {
          "data": {"name": "osc"},
          "transform": [
            {"window": [{"op": "rank", "as": "r"}], "groupby": ["s"], "sort": [{"field": "d", "order": "descending"}]},
            {"filter": "datum.r == 1"}
          ],
          "mark": {"type": "text", "align": "left", "baseline": "middle", "dx": 9, "fontSize": 11},
          "encoding": {
            "x": {"field": "d", "type": "temporal"},
            "y": {"field": "v", "type": "quantitative"},
            "color": {"field": "s", "type": "nominal", "legend": null},
            "text": {"field": "v", "type": "quantitative", "format": ".1f"}
          }
        }
      ]
    }
  ]
}
